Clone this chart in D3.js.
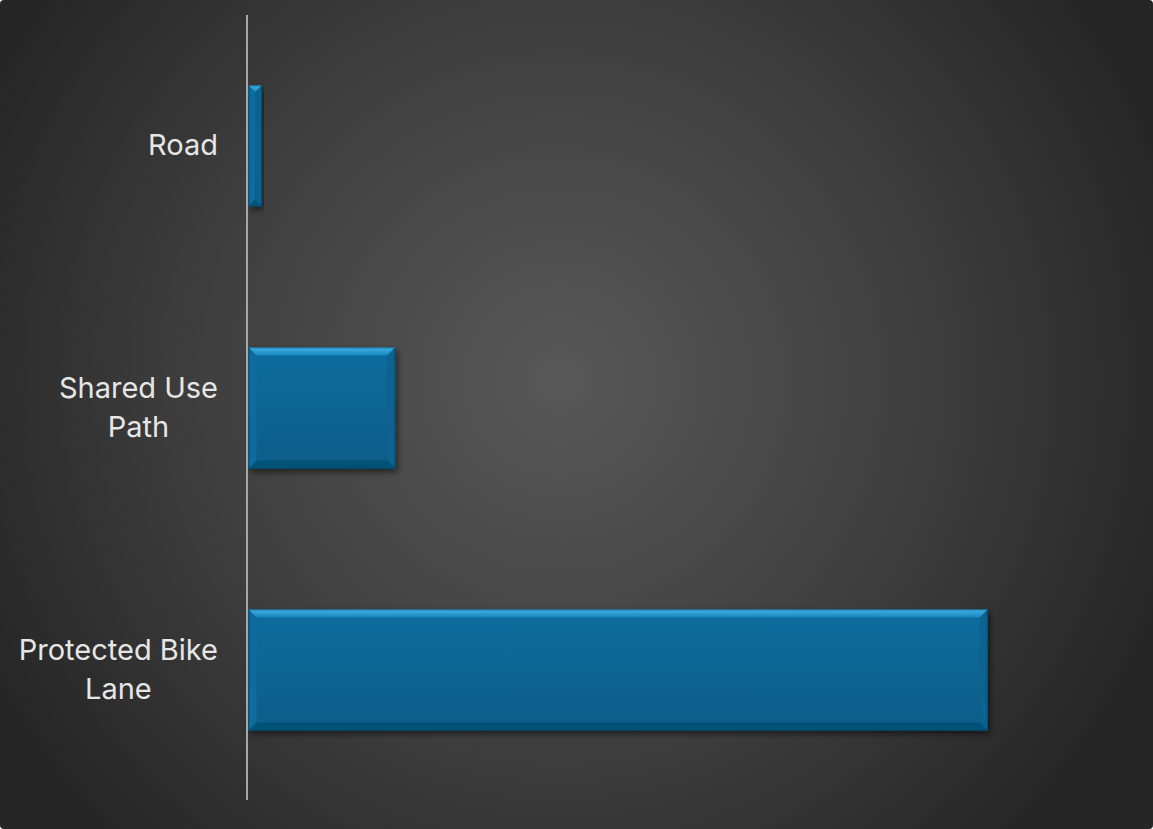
<!DOCTYPE html>
<html>
<head>
<meta charset="utf-8">
<script src="https://cdn.jsdelivr.net/npm/d3@7"></script>
<style>
  html, body { margin: 0; padding: 0; background: #ffffff; }
  svg { display: block; }
</style>
</head>
<body>
<svg id="chart" width="1153" height="829"></svg>
<script>
// Bike facility types and their values
const categories = ["Road", "Shared Use Path", "Protected Bike Lane"];
const labelLines = [["Road"], ["Shared Use", "Path"], ["Protected Bike", "Lane"]];
const values = [2, 20, 100];
const xDomain = [0, 120];

const W = 1153, H = 829;
const svg = d3.select("#chart");
const defs = svg.append("defs");

// Background: dark panel with a soft radial highlight
const bg = defs.append("radialGradient").attr("id", "bgGrad")
  .attr("gradientUnits", "userSpaceOnUse")
  .attr("cx", 560).attr("cy", 380).attr("r", 640);
bg.append("stop").attr("offset", "0%").attr("stop-color", "#585858");
bg.append("stop").attr("offset", "55%").attr("stop-color", "#3f3f3f");
bg.append("stop").attr("offset", "100%").attr("stop-color", "#262626");

svg.append("rect").attr("x", 0).attr("y", 0).attr("width", W).attr("height", H)
  .attr("rx", 4).attr("fill", "url(#bgGrad)");

// Gradients for the bevelled bars
const face = defs.append("linearGradient").attr("id", "faceGrad")
  .attr("x1", 0).attr("y1", 0).attr("x2", 0).attr("y2", 1);
face.append("stop").attr("offset", "0%").attr("stop-color", "#0a6c9e");
face.append("stop").attr("offset", "100%").attr("stop-color", "#075d89");

const topBevel = defs.append("linearGradient").attr("id", "topGrad")
  .attr("x1", 0).attr("y1", 0).attr("x2", 0).attr("y2", 1);
topBevel.append("stop").attr("offset", "0%").attr("stop-color", "#45b4ea");
topBevel.append("stop").attr("offset", "100%").attr("stop-color", "#1485bd");

const shadow = defs.append("filter").attr("id", "barShadow")
  .attr("x", "-5%").attr("y", "-10%").attr("width", "115%").attr("height", "130%");
shadow.append("feGaussianBlur").attr("in", "SourceAlpha").attr("stdDeviation", 3).attr("result", "b");
shadow.append("feOffset").attr("in", "b").attr("dx", 2).attr("dy", 3).attr("result", "o");
shadow.append("feComponentTransfer").attr("in", "o").attr("result", "s")
  .append("feFuncA").attr("type", "linear").attr("slope", 0.55);
const merge = shadow.append("feMerge");
merge.append("feMergeNode").attr("in", "s");
merge.append("feMergeNode").attr("in", "SourceGraphic");

// Scales
const axisX = 247;
const x = d3.scaleLinear().domain(xDomain).range([axisX, 1136]);
const y = d3.scaleBand().domain(categories).range([15, 801])
  .paddingInner(0.538).paddingOuter(0.269);

const bev = 8;
const bars = svg.append("g").selectAll("g.bar")
  .data(categories.map((c, i) => ({ c, v: values[i] })))
  .join("g").attr("class", "bar").attr("filter", "url(#barShadow)");

bars.each(function(d) {
  const g = d3.select(this);
  const x0 = x(0) + 1.5, x1 = x(d.v);
  const y0 = y(d.c), y1 = y0 + y.bandwidth();
  const b = Math.min(bev, (x1 - x0) / 2);
  // base face
  g.append("rect").attr("x", x0).attr("y", y0).attr("width", x1 - x0).attr("height", y1 - y0)
    .attr("fill", "url(#faceGrad)");
  // top bevel
  g.append("polygon").attr("points", [[x0, y0], [x1, y0], [x1 - b, y0 + b], [x0 + b, y0 + b]].join(" "))
    .attr("fill", "url(#topGrad)");
  // left bevel
  g.append("polygon").attr("points", [[x0, y0], [x0 + b, y0 + b], [x0 + b, y1 - b], [x0, y1]].join(" "))
    .attr("fill", "#0a6c9d");
  // right bevel
  g.append("polygon").attr("points", [[x1, y0], [x1, y1], [x1 - b, y1 - b], [x1 - b, y0 + b]].join(" "))
    .attr("fill", "#08628f");
  // bottom bevel
  g.append("polygon").attr("points", [[x0, y1], [x0 + b, y1 - b], [x1 - b, y1 - b], [x1, y1]].join(" "))
    .attr("fill", "#065277");
  // thin outline
  g.append("rect").attr("x", x0 + 0.5).attr("y", y0 + 0.5).attr("width", x1 - x0 - 1).attr("height", y1 - y0 - 1)
    .attr("fill", "none").attr("stroke", "#054666").attr("stroke-width", 1).attr("stroke-opacity", 0.6);
});

// Vertical category axis line
svg.append("line").attr("x1", axisX).attr("x2", axisX).attr("y1", 15).attr("y2", 800)
  .attr("stroke", "#a6a6a6").attr("stroke-width", 2);

// Category labels (wrapped, centred block aligned right)
const labelRight = 218;
const fontSize = 29, lineH = 39;
const labels = svg.append("g")
  .attr("font-family", "Inter, 'Open Sans', 'Noto Sans', sans-serif")
  .attr("font-size", fontSize).attr("fill", "#e6e6e6");

categories.forEach((c, i) => {
  const lines = labelLines[i];
  const t = labels.append("text").attr("text-anchor", "middle");
  const spans = lines.map(l => t.append("tspan").text(l));
  const maxW = d3.max(spans, s => s.node().getComputedTextLength());
  const cx = labelRight - maxW / 2;
  const cy = y(c) + y.bandwidth() / 2;
  const first = cy - (lines.length - 1) * lineH / 2 - 1;
  spans.forEach((s, k) => s.attr("x", cx).attr("y", first + k * lineH).attr("dy", "0.35em"));
});
</script>
</body>
</html>
